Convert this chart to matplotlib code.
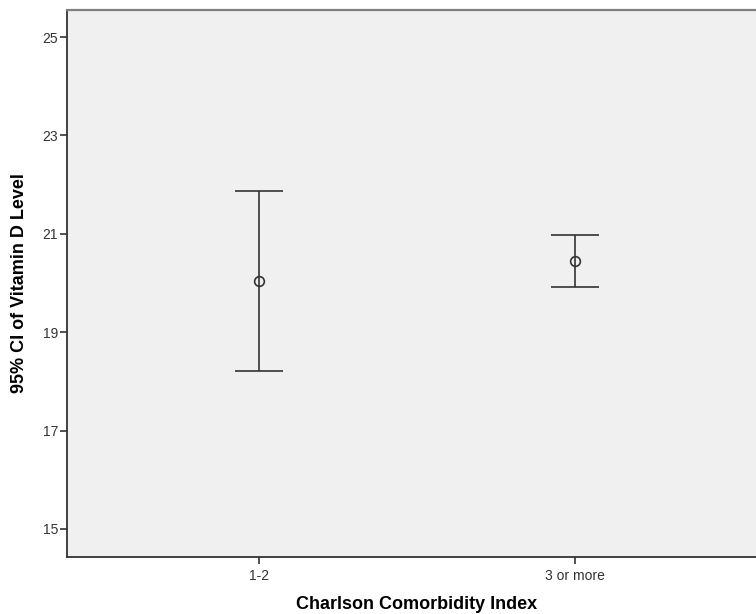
import matplotlib.pyplot as plt

plt.rcParams['font.family'] = ['Liberation Sans', 'DejaVu Sans']

groups = ['1-2', '3 or more']
means = [20.04, 20.45]
lower = [18.21, 19.92]
upper = [21.87, 20.98]

fig = plt.figure(figsize=(7.56, 6.14), dpi=100)
# axes runs a little past the right edge of the figure, like the original
ax = fig.add_axes([67/756, (614-557)/614, 700/756, 547/614])
ax.set_facecolor('#f0f0f0')

x = [1, 2]
err = [[m - l for m, l in zip(means, lower)], [u - m for m, u in zip(means, upper)]]
ax.errorbar(x, means, yerr=err, fmt='o', color='#222222', mfc='none', mec='#333333',
            ms=7, mew=1.2, elinewidth=1.2, capsize=17, capthick=1.6, ecolor='#333333')

ax.set_xlim(0.392, 2.608)
ax.set_ylim(14.43, 25.55)
ax.set_yticks([15, 17, 19, 21, 23, 25])
ax.set_xticks(x)
ax.set_xticklabels(groups)
ax.tick_params(labelsize=10, colors='#333333', length=5, width=1.2, pad=1.5)
ax.tick_params(axis='x', pad=3.5)

for s in ['left', 'bottom']:
    ax.spines[s].set_color('#333333')
    ax.spines[s].set_linewidth(1.3)
ax.spines['top'].set_color('#808080')
ax.spines['top'].set_linewidth(1.6)
ax.spines['right'].set_visible(False)

ax.set_xlabel('Charlson Comorbidity Index', fontsize=13, fontweight='bold')
ax.set_ylabel('95% CI of Vitamin D Level', fontsize=13, fontweight='bold')
ax.yaxis.set_label_coords(-39/700, 0.5)
ax.xaxis.set_label_coords(0.5, -39/547)

fig.savefig('out.png', dpi=100)
